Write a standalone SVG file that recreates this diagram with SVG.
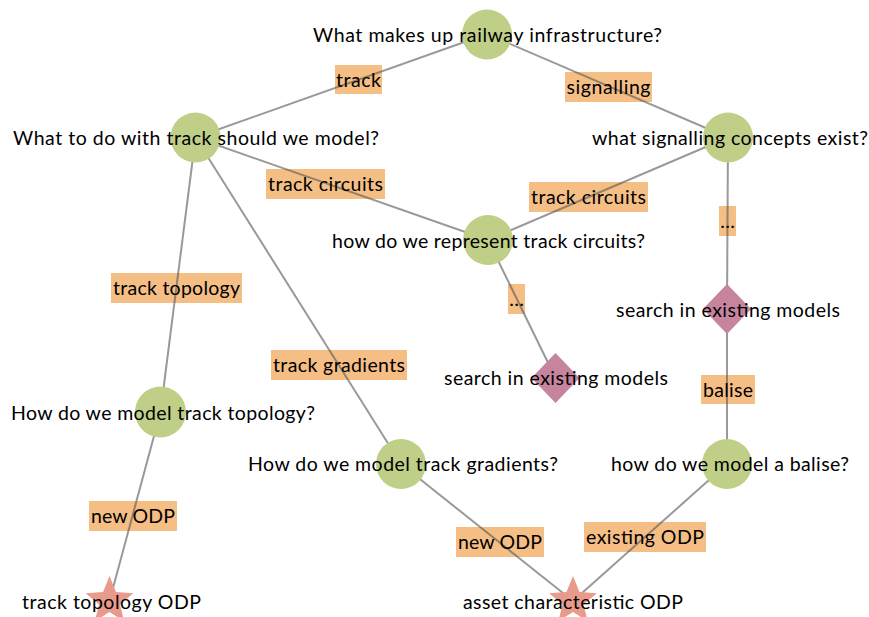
<svg xmlns="http://www.w3.org/2000/svg" width="869" height="617" viewBox="0 0 869 617">
  <defs>
    <style>
      text { font-family: "Lato", "Liberation Sans", sans-serif; font-size: 19.5px; fill: #000; text-anchor: middle; }
      .q { fill: #bfcf87; }
      .d { fill: #c6849e; }
      .s { fill: #e89a8b; }
      .box { fill: #f4be85; }
      .edge { stroke: #555; stroke-opacity: 0.6; stroke-width: 2; fill: none; }
    </style>
    <path id="star" d="M0,-25 L6.47,-8.9 L23.78,-7.73 L10.46,3.4 L14.69,20.23 L0,11 L-14.69,20.23 L-10.46,3.4 L-23.78,-7.73 L-6.47,-8.9 Z"/>
    <path id="diamond" d="M0,-25 L24,0 L0,25 L-24,0 Z"/>
  </defs>
  <rect width="869" height="617" fill="#fff"/>

  <g id="connectors">
    <!-- label backgrounds -->
    <rect class="box" x="335" y="65" width="47" height="29"/>
    <rect class="box" x="565" y="72" width="87" height="30"/>
    <rect class="box" x="266" y="169" width="119" height="30"/>
    <rect class="box" x="529" y="182" width="119" height="30"/>
    <rect class="box" x="719" y="206" width="17" height="30"/>
    <rect class="box" x="508" y="284" width="17" height="30"/>
    <rect class="box" x="111" y="273" width="131" height="30"/>
    <rect class="box" x="271" y="350" width="136" height="30"/>
    <rect class="box" x="701" y="375" width="54" height="29"/>
    <rect class="box" x="89" y="501" width="88" height="30"/>
    <rect class="box" x="456" y="527" width="88" height="30"/>
    <rect class="box" x="584" y="522" width="122" height="30"/>
    <!-- lines -->
    <line class="edge" x1="487" y1="34" x2="195.5" y2="137.5"/>
    <line class="edge" x1="487" y1="34" x2="728" y2="137.5"/>
    <line class="edge" x1="195.5" y1="137.5" x2="488" y2="240"/>
    <line class="edge" x1="728" y1="137.5" x2="488" y2="240"/>
    <line class="edge" x1="728" y1="137.5" x2="727" y2="309"/>
    <line class="edge" x1="488" y1="240" x2="555.5" y2="378"/>
    <line class="edge" x1="195.5" y1="137.5" x2="160.5" y2="412"/>
    <line class="edge" x1="195.5" y1="137.5" x2="401" y2="464"/>
    <line class="edge" x1="727" y1="309" x2="727" y2="464"/>
    <line class="edge" x1="160.5" y1="412" x2="109.5" y2="601"/>
    <line class="edge" x1="401" y1="464" x2="573" y2="601"/>
    <line class="edge" x1="727" y1="464" x2="573" y2="601"/>
    <!-- label texts -->
    <text x="358.5" y="86.5" textLength="45">track</text>
    <text x="608.5" y="93.5" textLength="84">signalling</text>
    <text x="325.5" y="190.5" textLength="115">track circuits</text>
    <text x="588.5" y="203.5" textLength="115">track circuits</text>
    <text x="727.5" y="227.5">…</text>
    <text x="516.5" y="305.5">…</text>
    <text x="176.5" y="294.5" textLength="127">track topology</text>
    <text x="339" y="371.5" textLength="132">track gradients</text>
    <text x="728" y="396.5" textLength="50">balise</text>
    <text x="133" y="522.5" textLength="84">new ODP</text>
    <text x="500" y="548.5" textLength="84">new ODP</text>
    <text x="645" y="543.5" textLength="118">existing ODP</text>
  </g>

  <g id="n-railway">
    <circle class="q" cx="487" cy="34.5" r="25"/>
    <text x="487.5" y="42" textLength="349">What makes up railway infrastructure?</text>
  </g>
  <g id="n-track">
    <circle class="q" cx="195.5" cy="137.5" r="25"/>
    <text x="196" y="145" textLength="366">What to do with track should we model?</text>
  </g>
  <g id="n-signalling">
    <circle class="q" cx="728" cy="137.5" r="25"/>
    <text x="730" y="145" textLength="276">what signalling concepts exist?</text>
  </g>
  <g id="n-circuits">
    <circle class="q" cx="488" cy="240" r="25"/>
    <text x="488.5" y="247.5" textLength="313">how do we represent track circuits?</text>
  </g>
  <g id="n-search-right">
    <use href="#diamond" class="d" x="727" y="309"/>
    <text x="728" y="317" textLength="224">search in existing models</text>
  </g>
  <g id="n-search-mid">
    <use href="#diamond" class="d" x="555.5" y="378"/>
    <text x="556" y="385" textLength="224">search in existing models</text>
  </g>
  <g id="n-topology">
    <circle class="q" cx="160.5" cy="412" r="25.5"/>
    <text x="163" y="420" textLength="304">How do we model track topology?</text>
  </g>
  <g id="n-gradients">
    <circle class="q" cx="401" cy="464" r="25"/>
    <text x="403" y="471" textLength="310">How do we model track gradients?</text>
  </g>
  <g id="n-balise">
    <circle class="q" cx="727" cy="464" r="25"/>
    <text x="730" y="471" textLength="238">how do we model a balise?</text>
  </g>
  <g id="n-topology-odp">
    <use href="#star" class="s" x="109.5" y="601"/>
    <text x="111.5" y="609" textLength="179">track topology ODP</text>
  </g>
  <g id="n-asset-odp">
    <use href="#star" class="s" x="573" y="601"/>
    <text x="573" y="608.5" textLength="220">asset characteristic ODP</text>
  </g>
</svg>
